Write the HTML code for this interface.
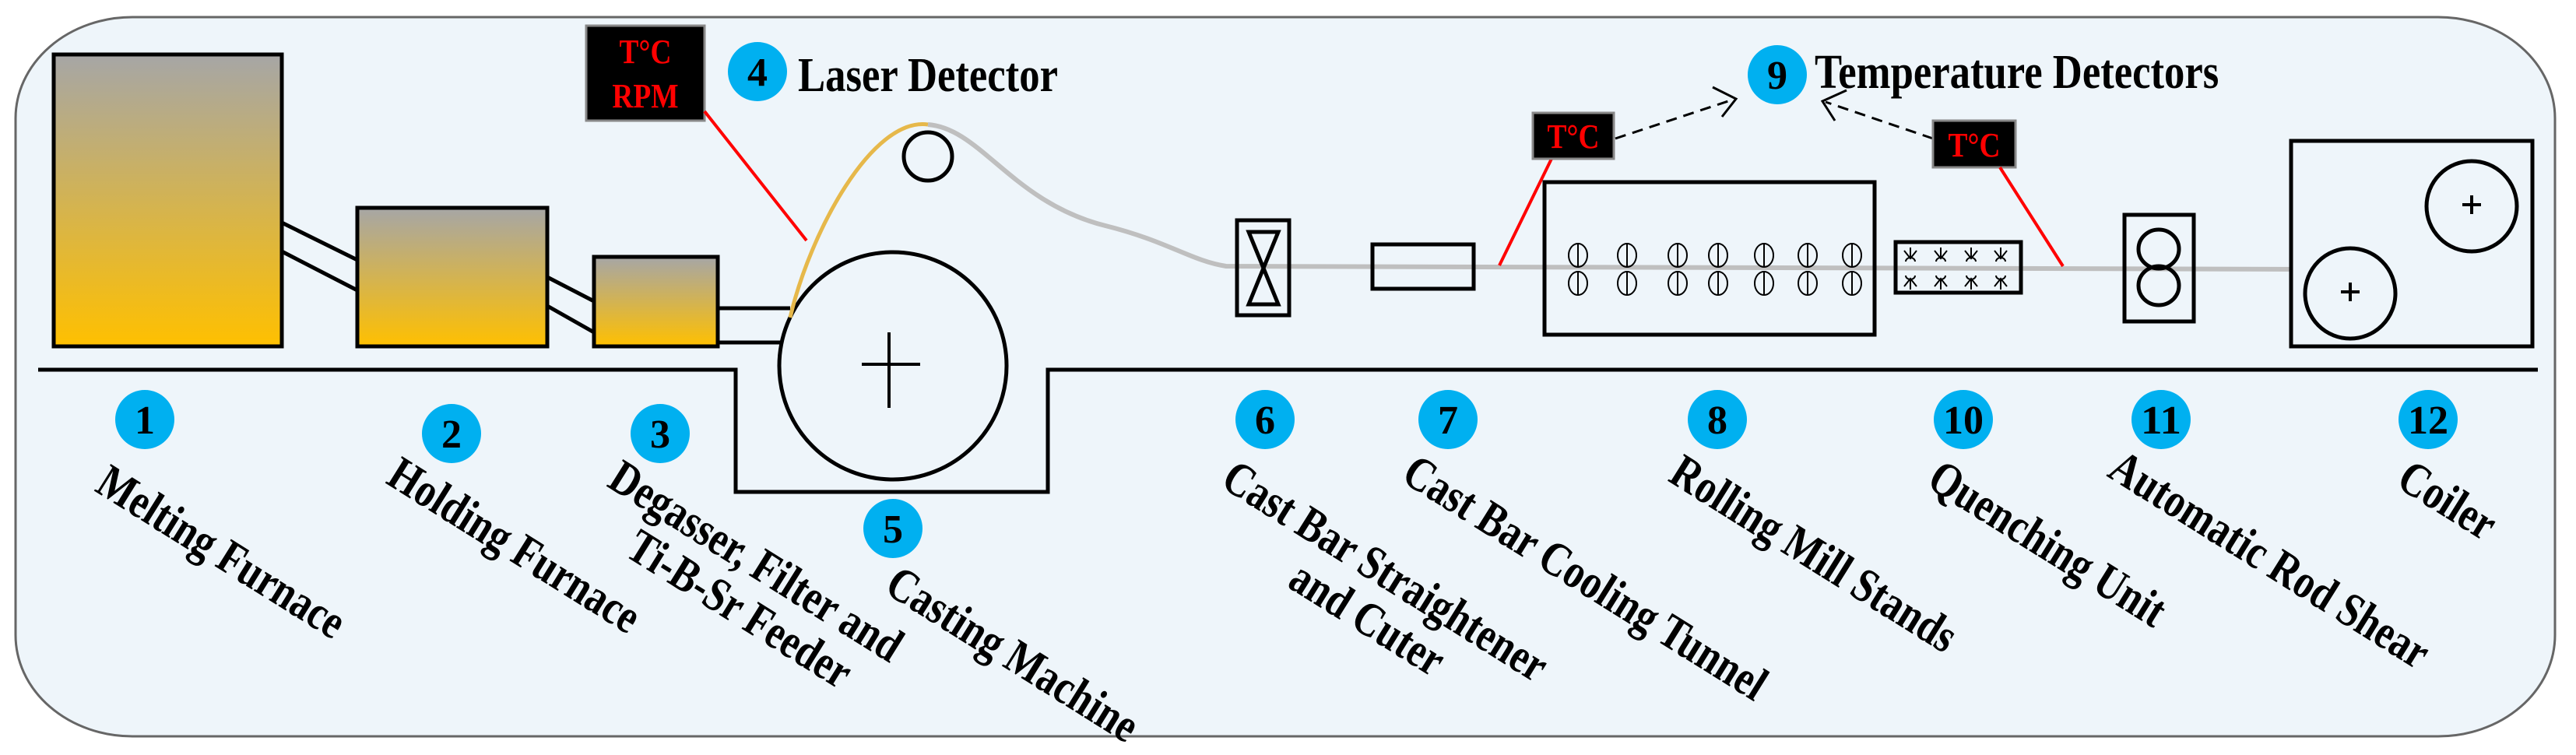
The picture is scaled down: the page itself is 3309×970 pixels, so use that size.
<!DOCTYPE html>
<html><head><meta charset="utf-8"><style>
html,body{margin:0;padding:0;background:#fff;}
svg{display:block;}
.lbl{font-family:"Liberation Serif",serif;font-weight:bold;font-size:62px;fill:#000;}
.num{font-family:"Liberation Serif",serif;font-weight:bold;font-size:52px;fill:#000;text-anchor:middle;}
.tc{font-family:"Liberation Serif",serif;font-weight:bold;font-size:44px;fill:#ff0000;text-anchor:middle;}
</style></head><body>
<svg width="3309" height="970" viewBox="0 0 3309 970" xmlns="http://www.w3.org/2000/svg">
<defs>
<linearGradient id="g" x1="0" y1="0" x2="0" y2="1">
<stop offset="0" stop-color="#a6a6a6"/><stop offset="1" stop-color="#ffc000"/>
</linearGradient>
<g id="ov"><ellipse cx="0" cy="328" rx="12" ry="15"/><line x1="0" y1="313" x2="0" y2="343"/><ellipse cx="0" cy="364" rx="12" ry="15"/><line x1="0" y1="349" x2="0" y2="379"/></g>
<g id="sp"><path d="M-8,322 L0,332 L8,322 M0,318 L0,332 M-6,336 a6,5 0 0 1 12,0"/><path d="M-8,368 L0,358 L8,368 M0,372 L0,358 M-6,354 a6,5 0 0 0 12,0"/></g>
</defs>
<rect x="20" y="22" width="3262" height="924" rx="150" ry="130" fill="#eef5fa" stroke="#666" stroke-width="3"/>

<rect x="69" y="70" width="293" height="375" fill="url(#g)" stroke="#000" stroke-width="5"/>
<rect x="459" y="267" width="244" height="178" fill="url(#g)" stroke="#000" stroke-width="5"/>
<rect x="763" y="330" width="159" height="115" fill="url(#g)" stroke="#000" stroke-width="5"/>
<g stroke="#000" stroke-width="5">
<line x1="362" y1="286" x2="459" y2="334"/><line x1="362" y1="323" x2="459" y2="373"/>
<line x1="703" y1="356" x2="763" y2="387"/><line x1="703" y1="393" x2="763" y2="427"/>
<line x1="922" y1="396" x2="1015" y2="396"/><line x1="922" y1="440" x2="1004" y2="440"/>
</g>
<polyline points="49,475 945,475 945,632 1346,632 1346,475 3260,475" fill="none" stroke="#000" stroke-width="5"/>

<circle cx="1147" cy="470" r="146" fill="none" stroke="#000" stroke-width="5"/>
<line x1="1107" y1="468" x2="1182" y2="468" stroke="#000" stroke-width="4"/>
<line x1="1142" y1="427" x2="1142" y2="524" stroke="#000" stroke-width="4"/>
<circle cx="1192" cy="201" r="31" fill="none" stroke="#000" stroke-width="5"/>
<path d="M1015,408 C1040,300 1120,150 1192,160" fill="none" stroke="#e6b84a" stroke-width="5"/>
<path d="M1192,160 C1260,165 1300,260 1420,290 C1500,310 1530,335 1575,342 L2970,346" fill="none" stroke="#bfbfbf" stroke-width="6"/>

<rect x="753" y="33" width="152" height="122" fill="#000" stroke="#888" stroke-width="3"/>
<text class="tc" x="829" y="81" transform="translate(829 0) scale(0.85 1) translate(-829 0)">T°C</text>
<text class="tc" x="829" y="138" transform="translate(829 0) scale(0.85 1) translate(-829 0)">RPM</text>
<line x1="905" y1="143" x2="1036" y2="309" stroke="#f00" stroke-width="4"/>
<circle cx="973" cy="92" r="38" fill="#00b0f0"/><text class="num" x="973" y="110">4</text>
<text class="lbl" x="1025" y="117" transform="translate(1025 0) scale(0.85 1) translate(-1025 0)">Laser Detector</text>

<rect x="1589" y="283" width="67" height="122" fill="none" stroke="#000" stroke-width="5"/>
<path d="M1604,298 L1642,298 L1604,391 L1642,391 Z" fill="none" stroke="#000" stroke-width="5"/>
<rect x="1763" y="314" width="130" height="57" fill="none" stroke="#000" stroke-width="5"/>
<line x1="1926" y1="341" x2="1993" y2="204" stroke="#f00" stroke-width="4"/>
<rect x="1969" y="145" width="104" height="59" fill="#000" stroke="#888" stroke-width="3"/>
<text class="tc" x="2021" y="190" transform="translate(2021 0) scale(0.85 1) translate(-2021 0)">T°C</text>
<line x1="2075" y1="178" x2="2226" y2="128" stroke="#000" stroke-width="3" stroke-dasharray="14,9"/>
<polyline points="2200,112 2230,127 2212,150" fill="none" stroke="#000" stroke-width="3"/>
<circle cx="2283" cy="96" r="38" fill="#00b0f0"/><text class="num" x="2283" y="114">9</text>
<text class="lbl" x="2331" y="113" transform="translate(2331 0) scale(0.85 1) translate(-2331 0)">Temperature Detectors</text>
<line x1="2483" y1="178" x2="2345" y2="131" stroke="#000" stroke-width="3" stroke-dasharray="14,9"/>
<polyline points="2372,116 2341,130 2357,155" fill="none" stroke="#000" stroke-width="3"/>
<rect x="2483" y="155" width="106" height="60" fill="#000" stroke="#888" stroke-width="3"/>
<text class="tc" x="2536" y="201" transform="translate(2536 0) scale(0.85 1) translate(-2536 0)">T°C</text>
<line x1="2569" y1="215" x2="2650" y2="342" stroke="#f00" stroke-width="4"/>

<rect x="1984" y="234" width="424" height="196" fill="none" stroke="#000" stroke-width="5"/>
<g fill="none" stroke="#000" stroke-width="2">
<use href="#ov" x="2027"/><use href="#ov" x="2090"/><use href="#ov" x="2155"/><use href="#ov" x="2207"/><use href="#ov" x="2266"/><use href="#ov" x="2322"/><use href="#ov" x="2379"/>
</g>
<rect x="2435" y="311" width="161" height="65" fill="none" stroke="#000" stroke-width="5"/>
<g stroke="#000" stroke-width="2" fill="none">
<use href="#sp" x="2454"/><use href="#sp" x="2493"/><use href="#sp" x="2532"/><use href="#sp" x="2570"/>
</g>
<rect x="2729" y="276" width="89" height="137" fill="none" stroke="#000" stroke-width="5"/>
<ellipse cx="2773" cy="320" rx="26" ry="25" fill="none" stroke="#000" stroke-width="5"/>
<ellipse cx="2773" cy="367" rx="26" ry="25" fill="none" stroke="#000" stroke-width="5"/>
<rect x="2943" y="181" width="310" height="264" fill="#eef5fa" stroke="#000" stroke-width="5"/>
<circle cx="3175" cy="265" r="58" fill="none" stroke="#000" stroke-width="5"/>
<circle cx="3019" cy="377" r="58" fill="none" stroke="#000" stroke-width="5"/>
<g stroke="#000" stroke-width="4"><line x1="3163" y1="263" x2="3187" y2="263"/><line x1="3175" y1="251" x2="3175" y2="275"/><line x1="3007" y1="375" x2="3031" y2="375"/><line x1="3019" y1="363" x2="3019" y2="387"/></g>

<g fill="#00b0f0">
<circle cx="186" cy="539" r="38"/><circle cx="580" cy="557" r="38"/><circle cx="848" cy="557" r="38"/><circle cx="1147" cy="679" r="38"/>
<circle cx="1625" cy="539" r="38"/><circle cx="1860" cy="539" r="38"/><circle cx="2206" cy="539" r="38"/><circle cx="2522" cy="539" r="38"/><circle cx="2776" cy="539" r="38"/><circle cx="3119" cy="539" r="38"/>
</g>
<text class="num" x="186" y="557">1</text><text class="num" x="580" y="575">2</text><text class="num" x="848" y="575">3</text><text class="num" x="1147" y="697">5</text>
<text class="num" x="1625" y="557">6</text><text class="num" x="1860" y="557">7</text><text class="num" x="2206" y="557">8</text><text class="num" x="2522" y="557" textLength="52" lengthAdjust="spacingAndGlyphs">10</text><text class="num" x="2776" y="557" textLength="52" lengthAdjust="spacingAndGlyphs">11</text><text class="num" x="3119" y="557" textLength="52" lengthAdjust="spacingAndGlyphs">12</text>

<text class="lbl" x="0" y="0" transform="translate(120 630) rotate(32) scale(0.82 1)">Melting Furnace</text>
<text class="lbl" x="0" y="0" transform="translate(494 620) rotate(32) scale(0.82 1)">Holding Furnace</text>
<text class="lbl" x="0" y="0" transform="translate(778 624) rotate(32) scale(0.82 1)">Degasser, Filter and</text>
<text class="lbl" x="0" y="0" transform="translate(801 713) rotate(32) scale(0.82 1)">Ti-B-Sr Feeder</text>
<text class="lbl" x="0" y="0" transform="translate(1134 760) rotate(32) scale(0.82 1)">Casting Machine</text>
<text class="lbl" x="0" y="0" transform="translate(1566 624) rotate(32) scale(0.82 1)">Cast Bar Straightener</text>
<text class="lbl" x="0" y="0" transform="translate(1652 753) rotate(32) scale(0.82 1)">and Cuter</text>
<text class="lbl" x="0" y="0" transform="translate(1798 617) rotate(32) scale(0.82 1)">Cast Bar Cooling Tunnel</text>
<text class="lbl" x="0" y="0" transform="translate(2141 617) rotate(32) scale(0.82 1)">Rolling Mill Stands</text>
<text class="lbl" x="0" y="0" transform="translate(2473 624) rotate(32) scale(0.82 1)">Quenching Unit</text>
<text class="lbl" x="0" y="0" transform="translate(2705 611) rotate(32) scale(0.82 1)">Automatic Rod Shear</text>
<text class="lbl" x="0" y="0" transform="translate(3076 624) rotate(32) scale(0.82 1)">Coiler</text>
</svg>
</body></html>
